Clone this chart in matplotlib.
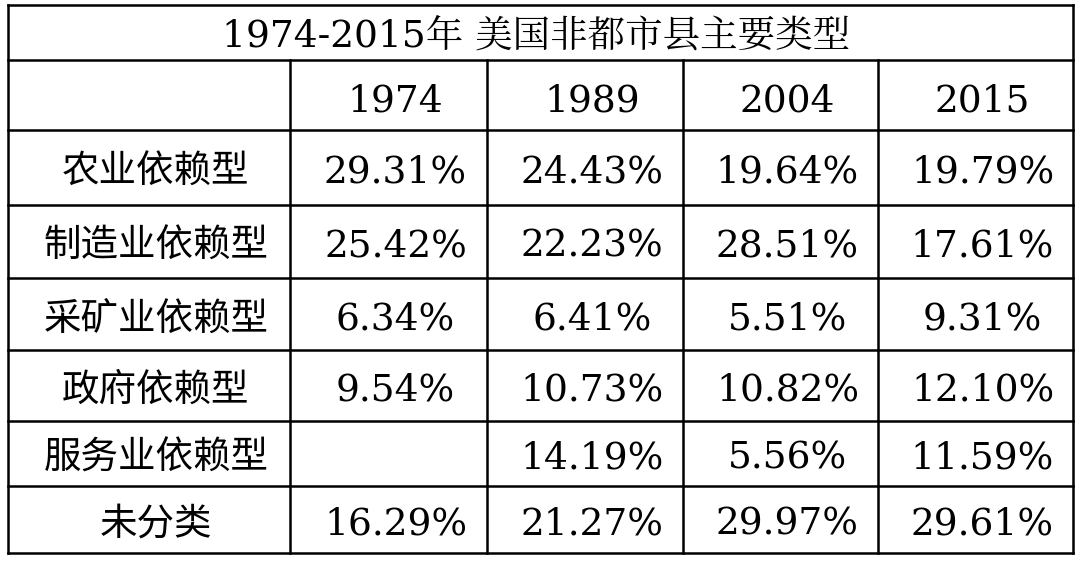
import matplotlib
matplotlib.use("Agg")
import matplotlib.pyplot as plt

title = "1974-2015年 美国非都市县主要类型"
years = ["1974", "1989", "2004", "2015"]
categories = ["农业依赖型", "制造业依赖型", "采矿业依赖型", "政府依赖型", "服务业依赖型", "未分类"]
values = [
    ["29.31%", "24.43%", "19.64%", "19.79%"],
    ["25.42%", "22.23%", "28.51%", "17.61%"],
    ["6.34%", "6.41%", "5.51%", "9.31%"],
    ["9.54%", "10.73%", "10.82%", "12.10%"],
    ["", "14.19%", "5.56%", "11.59%"],
    ["16.29%", "21.27%", "29.97%", "29.61%"],
]

W, H = 1080, 564
fig = plt.figure(figsize=(W / 100, H / 100), dpi=100)
ax = fig.add_axes([0, 0, 1, 1])
ax.set_xlim(0, W)
ax.set_ylim(H, 0)
ax.axis("off")

hlines = [5, 60, 130, 205, 278, 350, 421, 486, 553]
vx = [8, 290, 487, 683, 878, 1073]
lw = 1.8
for y in hlines:
    ax.plot([vx[0], vx[-1]], [y, y], color="black", lw=lw)
ax.plot([vx[0], vx[0]], [hlines[0], hlines[-1]], color="black", lw=lw)
ax.plot([vx[-1], vx[-1]], [hlines[0], hlines[-1]], color="black", lw=lw)
for x in vx[1:-1]:
    ax.plot([x, x], [hlines[1], hlines[-1]], color="black", lw=lw)

fam = ["DejaVu Serif", "Noto Serif CJK SC", "Noto Sans CJK SC"]
ax.text(W / 2 - 4, (hlines[0] + hlines[1]) / 2 + 3, title, ha="center", va="center",
        fontsize=27, family=fam)
for j, yr in enumerate(years):
    ax.text((vx[j + 1] + vx[j + 2]) / 2 + 7, (hlines[1] + hlines[2]) / 2 + 7, yr,
            ha="center", va="center", fontsize=27, family=fam)
for i, cat in enumerate(categories):
    yc = (hlines[i + 2] + hlines[i + 3]) / 2 + 5
    ax.text((vx[0] + vx[1]) / 2 + 7, yc, cat, ha="center", va="center", fontsize=27,
            family=["Noto Sans CJK SC", "DejaVu Sans"])
    for j, v in enumerate(values[i]):
        ax.text((vx[j + 1] + vx[j + 2]) / 2 + 7, yc, v, ha="center", va="center",
                fontsize=27, family=fam)

fig.savefig("out.png", dpi=100, facecolor="white")
